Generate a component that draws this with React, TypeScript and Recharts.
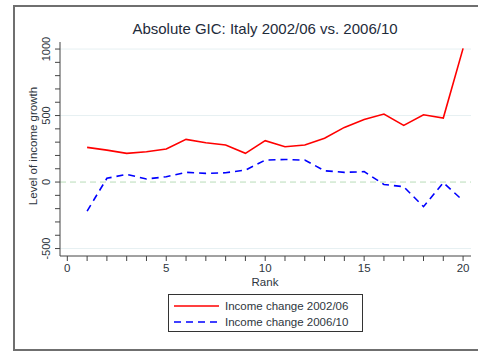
import { LineChart, Line, XAxis, YAxis, ReferenceLine } from 'recharts'

const RANKS = [1, 2, 3, 4, 5, 6, 7, 8, 9, 10, 11, 12, 13, 14, 15, 16, 17, 18, 19, 20]
const CHANGE_0206 = [261, 240, 216, 228, 248, 321, 296, 278, 216, 311, 265, 278, 329, 411, 471, 511, 426, 506, 481, 1005]
const CHANGE_0610 = [-218, 28, 58, 23, 40, 73, 65, 70, 90, 165, 170, 165, 85, 73, 78, -18, -35, -185, -5, -140]

const X_TICKS = [0, 1, 2, 3, 4, 5, 6, 7, 8, 9, 10, 11, 12, 13, 14, 15, 16, 17, 18, 19, 20]
const Y_TICKS = [-500, -400, -300, -200, -100, 0, 100, 200, 300, 400, 500, 600, 700, 800, 900, 1000]
const GRID_VALUES = [-500, 500, 1000]

const SERIES = [
  { key: 'a', name: 'Income change 2002/06', color: '#ff0000', dash: undefined },
  { key: 'b', name: 'Income change 2006/10', color: '#0000ff', dash: '7 5' },
]

const data = RANKS.map((rank, i) => ({ rank, a: CHANGE_0206[i], b: CHANGE_0610[i] }))

const FONT = 'Liberation Sans, Arial, sans-serif'
const AXIS = '#444'
const LABEL = '#2e3640'

// eslint-disable-next-line @typescript-eslint/no-explicit-any
const YTick = (props: any) => {
  const { x, y, payload } = props
  const major = payload.value % 500 === 0
  return (
    <g>
      <line x1={x} x2={x + 5} y1={y} y2={y} stroke={AXIS} strokeWidth={1} />
      {major && (
        <text
          x={50.5}
          y={y}
          transform={`rotate(-90, 50.5, ${y})`}
          textAnchor="middle"
          fontSize={11}
          fontFamily={FONT}
          fill={LABEL}
        >
          {payload.value}
        </text>
      )}
    </g>
  )
}

// eslint-disable-next-line @typescript-eslint/no-explicit-any
const XTick = (props: any) => {
  const { x, y, payload } = props
  const major = payload.value % 5 === 0
  return (
    <g>
      <line x1={x} x2={x} y1={y - 5} y2={y} stroke={AXIS} strokeWidth={1} />
      {major && (
        <text x={x} y={y + 11} textAnchor="middle" fontSize={11.5} fontFamily={FONT} fill={LABEL}>
          {payload.value}
        </text>
      )}
    </g>
  )
}

export default function App() {
  return (
    <div style={{ position: 'absolute', left: 0, top: 0, width: 478, height: 351, background: '#fff' }}>
      {/* outer frame */}
      <div
        style={{
          position: 'absolute',
          left: 13,
          top: 5,
          width: 470,
          height: 342,
          borderLeft: '2px solid #6f6f6f',
          borderTop: '2px solid #6f6f6f',
          borderBottom: '2px solid #6f6f6f',
        }}
      />
      <LineChart width={478} height={351} data={data} margin={{ top: 42, right: 7, left: 0, bottom: 0 }}>
        {GRID_VALUES.map((v) => (
          <ReferenceLine key={v} y={v} stroke="#e6f0f2" strokeWidth={1} />
        ))}
        <ReferenceLine y={0} stroke="#b9dcb9" strokeDasharray="6 4" strokeWidth={1} />
        <XAxis
          type="number"
          dataKey="rank"
          domain={[-0.37, 20.4]}
          ticks={X_TICKS}
          interval={0}
          allowDataOverflow
          height={95}
          tickSize={5}
          tickMargin={0}
          tickLine={false}
          axisLine={{ stroke: AXIS }}
          tick={<XTick />}
        />
        <YAxis
          type="number"
          domain={[-556, 1053]}
          ticks={Y_TICKS}
          interval={0}
          allowDataOverflow
          width={60}
          tickSize={5}
          tickMargin={0}
          tickLine={false}
          axisLine={{ stroke: AXIS }}
          tick={<YTick />}
        />
        {SERIES.map((s) => (
          <Line
            key={s.key}
            type="linear"
            dataKey={s.key}
            name={s.name}
            stroke={s.color}
            strokeWidth={1.6}
            strokeDasharray={s.dash}
            dot={false}
            isAnimationActive={false}
          />
        ))}
      </LineChart>
      {/* legend */}
      <div
        style={{
          position: 'absolute',
          left: 168,
          top: 294,
          width: 195,
          height: 38,
          border: '1px solid #333',
          background: '#fff',
          fontFamily: FONT,
          fontSize: 11.5,
          color: LABEL,
          paddingTop: 3,
          boxSizing: 'border-box',
        }}
      >
        {SERIES.map((s) => (
          <div key={s.key} style={{ display: 'flex', alignItems: 'center', height: 16 }}>
            <svg width={56} height={16}>
              <line x1={5} x2={50} y1={8} y2={8} stroke={s.color} strokeWidth={1.6} strokeDasharray={s.dash} />
            </svg>
            <span>{s.name}</span>
          </div>
        ))}
      </div>
      {/* title and axis titles */}
      <svg
        width={478}
        height={351}
        style={{ position: 'absolute', left: 0, top: 0, pointerEvents: 'none' }}
        fontFamily={FONT}
      >
        <text x={265} y={34} textAnchor="middle" fontSize={15} fill="#1e2b3a">
          Absolute GIC: Italy 2002/06 vs. 2006/10
        </text>
        <text x={265} y={286} textAnchor="middle" fontSize={11.5} fill={LABEL}>
          Rank
        </text>
        <text
          x={37}
          y={146}
          transform="rotate(-90, 37, 146)"
          textAnchor="middle"
          fontSize={11.5}
          fill={LABEL}
        >
          Level of income growth
        </text>
      </svg>
    </div>
  )
}
